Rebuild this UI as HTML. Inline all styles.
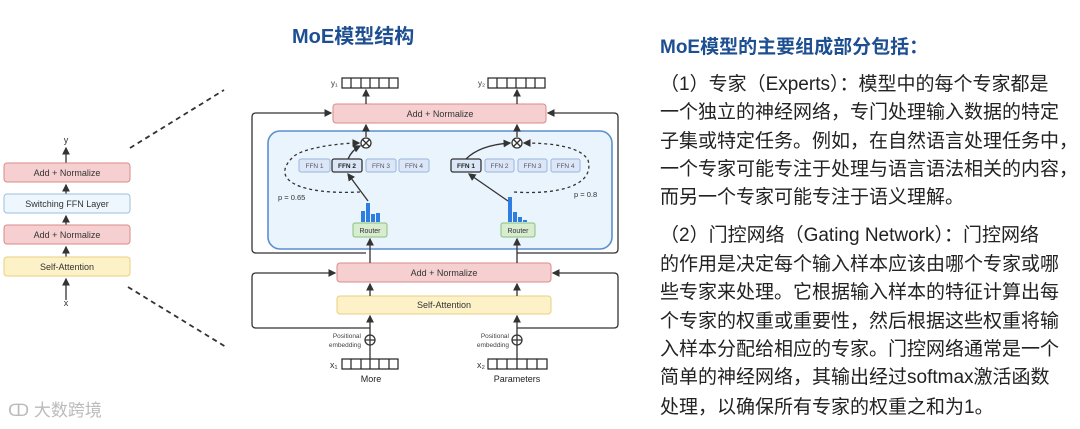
<!DOCTYPE html>
<html><head><meta charset="utf-8"><style>
body{margin:0;width:1080px;height:429px;background:#fff;overflow:hidden;position:relative;font-family:"Liberation Sans","Noto Sans CJK SC",sans-serif}
.t{position:absolute;left:660px;font-size:19px;color:#222;white-space:nowrap;line-height:28px}
</style></head><body>
<div style="position:absolute;left:292px;top:20px;font-size:20px;font-weight:bold;color:#1d4f91">MoE模型结构</div>
<div class="t" style="top:34px;color:#1d4f91;font-weight:bold">MoE模型的主要组成部分包括：</div>
<div class="t" style="top:71px">（1）专家（Experts）：模型中的每个专家都是</div>
<div class="t" style="top:99px">一个独立的神经网络，专门处理输入数据的特定</div>
<div class="t" style="top:128px">子集或特定任务。例如，在自然语言处理任务中，</div>
<div class="t" style="top:156px">一个专家可能专注于处理与语言语法相关的内容，</div>
<div class="t" style="top:184px">而另一个专家可能专注于语义理解。</div>
<div class="t" style="top:222px">（2）门控网络（Gating Network）：门控网络</div>
<div class="t" style="top:251px">的作用是决定每个输入样本应该由哪个专家或哪</div>
<div class="t" style="top:279px">些专家来处理。它根据输入样本的特征计算出每</div>
<div class="t" style="top:308px">个专家的权重或重要性，然后根据这些权重将输</div>
<div class="t" style="top:336px">入样本分配给相应的专家。门控网络通常是一个</div>
<div class="t" style="top:364px">简单的神经网络，其输出经过softmax激活函数</div>
<div class="t" style="top:394px">处理，以确保所有专家的权重之和为1。</div>
<div style="position:absolute;left:8px;top:396px;font-size:17px;color:#bbb">ↀ 大数跨境</div>
<svg width="1080" height="429" style="position:absolute;left:0;top:0" font-family="Liberation Sans,sans-serif">
<defs><marker id="a" markerWidth="6" markerHeight="6" refX="5" refY="3" orient="auto"><path d="M0,0L6,3L0,6z" fill="#333"/></marker></defs>
<g stroke="#333" stroke-width="1.3" fill="none">
<!-- left stack -->
<line x1="66" y1="300" x2="66" y2="279" marker-end="url(#a)"/>
<line x1="66" y1="257" x2="66" y2="247" marker-end="url(#a)"/>
<line x1="66" y1="225" x2="66" y2="216" marker-end="url(#a)"/>
<line x1="66" y1="194" x2="66" y2="185" marker-end="url(#a)"/>
<line x1="66" y1="163" x2="66" y2="148" marker-end="url(#a)"/>
<line x1="130" y1="148" x2="224" y2="90" stroke-dasharray="5,4" stroke-width="1.8"/>
<line x1="128" y1="287" x2="226" y2="347" stroke-dasharray="5,4" stroke-width="1.8"/>
</g>
<g font-size="9" text-anchor="middle" fill="#333">
<text x="66" y="143">y</text><text x="66" y="306">x</text>
<rect x="4" y="163" width="126" height="19" rx="3" fill="#f6d0d0" stroke="#d98a8a"/><text x="67" y="176">Add + Normalize</text>
<rect x="4" y="194" width="126" height="19" rx="3" fill="#eef7fd" stroke="#9bbfdc"/><text x="67" y="207">Switching FFN Layer</text>
<rect x="4" y="225" width="126" height="19" rx="3" fill="#f6d0d0" stroke="#d98a8a"/><text x="67" y="238">Add + Normalize</text>
<rect x="4" y="257" width="126" height="19" rx="3" fill="#fdf1c8" stroke="#e8cf80"/><text x="67" y="270">Self-Attention</text>
</g>
<!-- main frame lines -->
<g stroke="#333" stroke-width="1.3" fill="none">
<path d="M366,253 H256 Q252,253 252,249 V117 Q252,113 256,113 H331" marker-end="url(#a)"/>
<path d="M517,253 H614 Q618,253 618,249 V117 Q618,113 614,113 H548" marker-end="url(#a)"/>
<path d="M370,328 H256 Q252,328 252,324 V277 Q252,273 256,273 H335" marker-end="url(#a)"/>
<path d="M517,328 H614 Q618,328 618,324 V277 Q618,273 614,273 H553" marker-end="url(#a)"/>
</g>
<rect x="268" y="131" width="344" height="118" rx="12" fill="#eaf4fc" stroke="#5b8fd0" stroke-width="1.6"/>
<rect x="333" y="104" width="213" height="19" rx="3" fill="#f6d0d0" stroke="#d98a8a"/>
<text x="440" y="117" font-size="9" text-anchor="middle" fill="#333">Add + Normalize</text>
<rect x="337" y="263" width="214" height="19" rx="3" fill="#f6d0d0" stroke="#d98a8a"/>
<text x="444" y="276" font-size="9" text-anchor="middle" fill="#333">Add + Normalize</text>
<rect x="337" y="296" width="214" height="18" rx="3" fill="#fdf1c8" stroke="#e8cf80"/>
<text x="444" y="308" font-size="9" text-anchor="middle" fill="#333">Self-Attention</text>
<!-- output cells -->
<g stroke="#222" stroke-width="1.2" fill="#fff">
<rect x="342" y="78" width="56" height="10"/><rect x="488" y="78" width="57" height="10"/>
<rect x="342" y="359" width="56" height="10"/><rect x="488" y="359" width="59" height="10"/>
<path d="M351,78V88M361,78V88M370,78V88M379,78V88M389,78V88M497,78V88M507,78V88M516,78V88M526,78V88M535,78V88"/>
<path d="M351,359V369M361,359V369M370,359V369M379,359V369M389,359V369M497,359V369M507,359V369M517,359V369M527,359V369M537,359V369"/>
</g>
<g font-size="8" fill="#333">
<text x="331" y="86">y₁</text><text x="478" y="86">y₂</text>
<text x="330" y="368" font-size="9">x₁</text><text x="477" y="368" font-size="9">x₂</text>
</g>
<g font-size="9" text-anchor="middle" fill="#222">
<text x="371" y="382">More</text><text x="517" y="382">Parameters</text>
</g>
<g font-size="6.5" text-anchor="end" fill="#444">
<text x="361" y="338">Positional</text><text x="361" y="347">embedding</text>
<text x="509" y="338">Positional</text><text x="509" y="347">embedding</text>
</g>
<!-- arrows -->
<g stroke="#333" stroke-width="1.3" fill="none">
<line x1="366" y1="104" x2="366" y2="90" marker-end="url(#a)"/><line x1="517" y1="104" x2="517" y2="90" marker-end="url(#a)"/>
<line x1="366" y1="137" x2="366" y2="125" marker-end="url(#a)"/><line x1="517" y1="137" x2="517" y2="125" marker-end="url(#a)"/>
<line x1="370" y1="263" x2="370" y2="239" marker-end="url(#a)"/><line x1="517" y1="263" x2="517" y2="239" marker-end="url(#a)"/>
<line x1="370" y1="296" x2="370" y2="284" marker-end="url(#a)"/><line x1="517" y1="296" x2="517" y2="284" marker-end="url(#a)"/>
<line x1="370" y1="359" x2="370" y2="316" marker-end="url(#a)"/><line x1="517" y1="359" x2="517" y2="316" marker-end="url(#a)"/>
<circle cx="370" cy="340" r="5" fill="#fff"/><path d="M365,340H375M370,335V345"/>
<circle cx="517" cy="340" r="5" fill="#fff"/><path d="M512,340H522M517,335V345"/>
<circle cx="366" cy="143" r="5" fill="#fff"/><path d="M362.5,139.5L369.5,146.5M369.5,139.5L362.5,146.5"/>
<circle cx="517" cy="143" r="5" fill="#fff"/><path d="M513.5,139.5L520.5,146.5M520.5,139.5L513.5,146.5"/>
<line x1="368" y1="201" x2="348" y2="174" marker-end="url(#a)"/>
<path d="M348,159 Q352,150 360,146" marker-end="url(#a)"/>
<line x1="508" y1="201" x2="469" y2="174" marker-end="url(#a)"/>
<path d="M466,159 Q480,145 510,143" marker-end="url(#a)"/>
<path d="M360,192 C300,195 270,180 292,158 C300,148 340,143 359,143" stroke-dasharray="3,3" marker-end="url(#a)"/>
<path d="M514,192 C560,195 595,185 588,160 C580,146 550,143 524,143" stroke-dasharray="3,3" marker-end="url(#a)"/>
</g>
<!-- FFN boxes -->
<g font-size="6.5" text-anchor="middle" fill="#556">
<rect x="299" y="159" width="31" height="13" rx="2" fill="#dbe7f7" stroke="#9bb5de"/><text x="314.5" y="168">FFN 1</text>
<rect x="332" y="159" width="30" height="13" rx="2" fill="#dbe7f7" stroke="#333" stroke-width="1.3"/><text x="347" y="168" font-weight="bold" fill="#222">FFN 2</text>
<rect x="366" y="159" width="30" height="13" rx="2" fill="#dbe7f7" stroke="#9bb5de"/><text x="381" y="168">FFN 3</text>
<rect x="399" y="159" width="30" height="13" rx="2" fill="#dbe7f7" stroke="#9bb5de"/><text x="414" y="168">FFN 4</text>
<rect x="451" y="159" width="30" height="13" rx="2" fill="#dbe7f7" stroke="#333" stroke-width="1.3"/><text x="466" y="168" font-weight="bold" fill="#222">FFN 1</text>
<rect x="485" y="159" width="29" height="13" rx="2" fill="#dbe7f7" stroke="#9bb5de"/><text x="499.5" y="168">FFN 2</text>
<rect x="518" y="159" width="29" height="13" rx="2" fill="#dbe7f7" stroke="#9bb5de"/><text x="532.5" y="168">FFN 3</text>
<rect x="551" y="159" width="29" height="13" rx="2" fill="#dbe7f7" stroke="#9bb5de"/><text x="565.5" y="168">FFN 4</text>
</g>
<g font-size="7.5" fill="#333"><text x="278" y="200">p = 0.65</text><text x="574" y="197">p = 0.8</text></g>
<!-- bars -->
<g fill="#2f7de0">
<rect x="361" y="211" width="4" height="11"/><rect x="366" y="203" width="4" height="19"/><rect x="371" y="214" width="4" height="8"/><rect x="376" y="213" width="4" height="9"/>
<rect x="508" y="197" width="4" height="25"/><rect x="513" y="212" width="4" height="10"/><rect x="518" y="217" width="4" height="5"/><rect x="523" y="220" width="4" height="2"/>
</g>
<g font-size="7" text-anchor="middle" fill="#333">
<rect x="353" y="223" width="34" height="14" rx="2" fill="#d8ecd0" stroke="#8cbf7a"/><text x="370" y="233">Router</text>
<rect x="501" y="223" width="34" height="14" rx="2" fill="#d8ecd0" stroke="#8cbf7a"/><text x="518" y="233">Router</text>
</g>
</svg>
</body></html>
